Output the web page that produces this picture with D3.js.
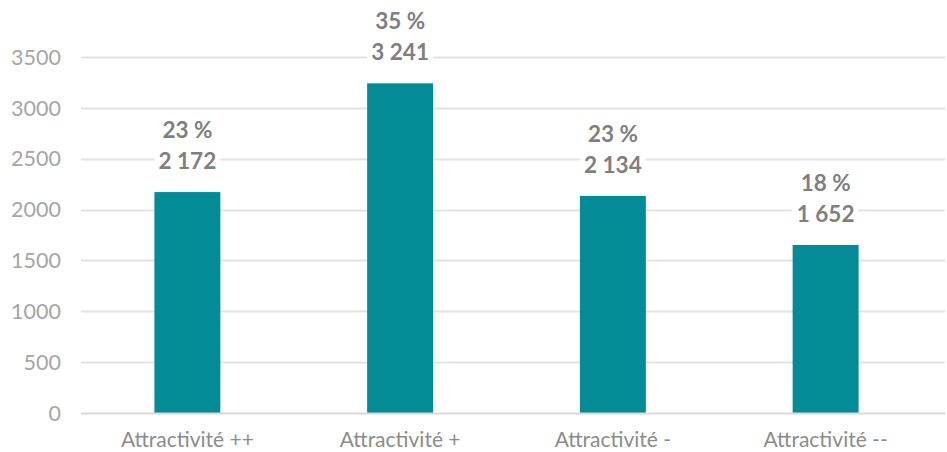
<!DOCTYPE html>
<html>
<head>
<meta charset="utf-8">
<script src="https://cdn.jsdelivr.net/npm/d3@7"></script>
<style>
  html, body { margin: 0; padding: 0; background: #fff; }
  svg { display: block; font-family: Lato, "Open Sans", sans-serif; }
</style>
</head>
<body>
<svg id="chart" width="947" height="452"></svg>
<script>
// Répartition par niveau d'attractivité
const categories = ["Attractivité ++", "Attractivité +", "Attractivité -", "Attractivité --"];
const values = [2172, 3241, 2134, 1652];
const percents = [23, 35, 23, 18];
const yTicks = [0, 500, 1000, 1500, 2000, 2500, 3000, 3500];

const W = 947, H = 452;
const margin = { top: 57, right: 12, bottom: 39, left: 81 };
const svg = d3.select("#chart");

const x = d3.scaleBand()
  .domain(categories)
  .range([margin.left, 932])
  .paddingInner(0.69)
  .paddingOuter(0.345);

const y = d3.scaleLinear()
  .domain([0, 3500])
  .range([H - margin.bottom, margin.top]);

const fmt = v => d3.format(",")(v).replace(/,/g, " ");

// gridlines
svg.append("g")
  .selectAll("line")
  .data(yTicks.filter(t => t > 0))
  .join("line")
  .attr("x1", margin.left)
  .attr("x2", W - 2)
  .attr("y1", d => Math.round(y(d)) + 0.5)
  .attr("y2", d => Math.round(y(d)) + 0.5)
  .attr("stroke", "#e3e3e3")
  .attr("stroke-width", 2);

// y axis tick labels
svg.append("g")
  .selectAll("text")
  .data(yTicks)
  .join("text")
  .attr("x", 61)
  .attr("y", d => y(d))
  .attr("dy", "0.36em")
  .attr("text-anchor", "end")
  .attr("fill", "#a6a6a6")
  .attr("font-size", 21.5)
  .text(d => d);

// bars
svg.append("g")
  .selectAll("rect")
  .data(values)
  .join("rect")
  .attr("x", (d, i) => x(categories[i]))
  .attr("width", x.bandwidth())
  .attr("y", d => y(d))
  .attr("height", d => y(0) - y(d))
  .attr("fill", "#038b96");

// baseline
svg.append("line")
  .attr("x1", margin.left)
  .attr("x2", W - 2)
  .attr("y1", Math.round(y(0)) + 0.5)
  .attr("y2", Math.round(y(0)) + 0.5)
  .attr("stroke", "#d9d9d9")
  .attr("stroke-width", 2);

// category labels
svg.append("g")
  .selectAll("text")
  .data(categories)
  .join("text")
  .attr("x", d => x(d) + x.bandwidth() / 2)
  .attr("y", 447)
  .attr("text-anchor", "middle")
  .attr("fill", "#8c8c8c")
  .attr("font-size", 21)
  .text(d => d);

// data labels: percentage over value, on a white box
const labels = svg.append("g")
  .selectAll("g")
  .data(values)
  .join("g")
  .attr("transform", (d, i) => `translate(${x(categories[i]) + x.bandwidth() / 2},${y(d) - 23})`);

labels.append("rect")
  .attr("x", -x.bandwidth() / 2)
  .attr("y", -50)
  .attr("width", x.bandwidth())
  .attr("height", 56)
  .attr("fill", "#fff");

labels.append("text")
  .attr("y", 0)
  .attr("text-anchor", "middle")
  .attr("fill", "#7f7f7f")
  .attr("font-size", 22.5)
  .attr("font-weight", "bold")
  .text(d => fmt(d));

labels.append("text")
  .attr("y", -31)
  .attr("text-anchor", "middle")
  .attr("fill", "#7f7f7f")
  .attr("font-size", 22.5)
  .attr("font-weight", "bold")
  .text((d, i) => percents[i] + " %");
</script>
</body>
</html>
